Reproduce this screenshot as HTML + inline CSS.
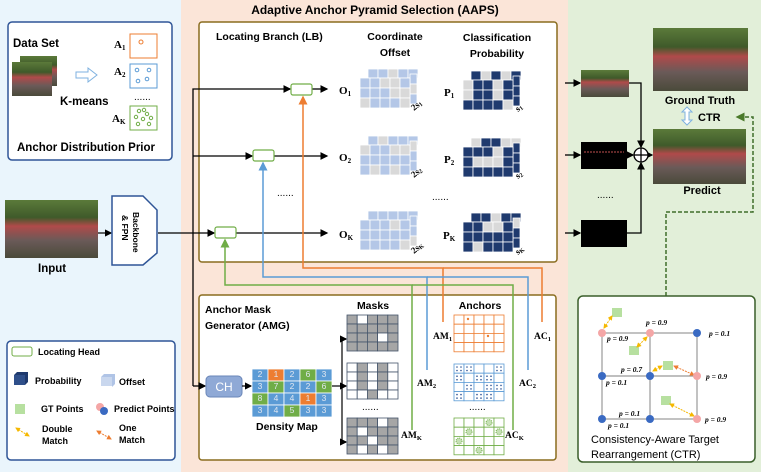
<!DOCTYPE html>
<html><head><meta charset="utf-8"><style>
html,body{margin:0;padding:0;background:#fff}
svg{display:block;font-family:"Liberation Sans",sans-serif}
.b{font-weight:bold}
.s{font-family:"Liberation Serif",serif;font-weight:bold}
</style></head><body>
<svg id="s" width="761" height="472" viewBox="0 0 761 472" xmlns="http://www.w3.org/2000/svg">
<defs>
<linearGradient id="crowd" x1="0" y1="0" x2="0" y2="1">
<stop offset="0" stop-color="#5b7a3a"/><stop offset="0.3" stop-color="#3f5a2a"/><stop offset="0.45" stop-color="#b04a4a"/><stop offset="0.7" stop-color="#6a5a58"/><stop offset="1" stop-color="#4a4a3a"/></linearGradient>
<marker id="ak" markerWidth="6" markerHeight="6" refX="5" refY="3" orient="auto"><path d="M0,0L6,3L0,6z" fill="#000"/></marker>
<marker id="ag" markerWidth="6" markerHeight="6" refX="5" refY="3" orient="auto"><path d="M0,0L6,3L0,6z" fill="#4a7a2a"/></marker>
<marker id="ao" markerWidth="6" markerHeight="6" refX="5" refY="3" orient="auto"><path d="M0,0L6,3L0,6z" fill="#ed7d31"/></marker>
<marker id="ab" markerWidth="6" markerHeight="6" refX="5" refY="3" orient="auto"><path d="M0,0L6,3L0,6z" fill="#5b9bd5"/></marker>
<marker id="agr" markerWidth="6" markerHeight="6" refX="5" refY="3" orient="auto"><path d="M0,0L6,3L0,6z" fill="#70ad47"/></marker>
<marker id="ay" markerWidth="5" markerHeight="5" refX="4" refY="2.5" orient="auto-start-reverse"><path d="M0,0L5,2.5L0,5z" fill="#f5b800"/></marker>
<marker id="ay2" markerWidth="5" markerHeight="5" refX="4" refY="2.5" orient="auto-start-reverse"><path d="M0,0L5,2.5L0,5z" fill="#ed7d31"/></marker>
</defs>
<rect x="0" y="0" width="181" height="472" fill="#eaf5fc"/>
<rect x="181" y="0" width="387" height="472" fill="#fbe5d8"/>
<rect x="568" y="0" width="193" height="472" fill="#e2efd9"/>
<text x="375" y="14" class="b" font-size="12" text-anchor="middle">Adaptive Anchor Pyramid Selection (AAPS)</text>

<rect x="8" y="22" width="164" height="138" rx="4" fill="#fff" stroke="#2f5597" stroke-width="1.5"/>
<text x="13" y="47" class="b" font-size="11.5">Data Set</text>
<rect x="20" y="56" width="37" height="30" fill="url(#crowd)"/>
<rect x="12" y="62" width="40" height="34" fill="url(#crowd)"/>
<path d="M76,72h12v-4l9,7l-9,7v-4h-12z" fill="#fff" stroke="#7fb2e0"/>
<text x="60" y="105" class="b" font-size="11.5">K-means</text>
<text x="114" y="48" class="s" font-size="11">A<tspan font-size="7" dy="2">1</tspan></text>
<rect x="130" y="34" width="27" height="24" fill="#fff" stroke="#ed7d31"/><circle cx="141" cy="42" r="2" fill="none" stroke="#ed7d31"/>
<text x="114" y="75" class="s" font-size="11">A<tspan font-size="7" dy="2">2</tspan></text>
<rect x="130" y="64" width="27" height="24" fill="#fff" stroke="#5b9bd5"/>
<g fill="none" stroke="#5b9bd5"><circle cx="137" cy="70" r="1.8"/><circle cx="149" cy="70" r="1.8"/><circle cx="138" cy="81" r="1.8"/><circle cx="147" cy="79" r="1.8"/></g>
<text x="134" y="100" font-size="10">......</text>
<text x="112" y="122" class="s" font-size="11">A<tspan font-size="7" dy="2">K</tspan></text>
<rect x="130" y="106" width="27" height="24" fill="#fff" stroke="#70ad47"/>
<g fill="none" stroke="#70ad47"><circle cx="139" cy="111" r="1.7"/><circle cx="144" cy="110" r="1.7"/><circle cx="136" cy="117" r="1.7"/><circle cx="143" cy="119" r="1.7"/><circle cx="151" cy="118" r="1.7"/><circle cx="147" cy="114" r="1.7"/><circle cx="138" cy="124" r="1.7"/><circle cx="149" cy="124" r="1.7"/></g>
<text x="17" y="151" class="b" font-size="11.5">Anchor Distribution Prior</text>

<rect x="5" y="200" width="93" height="58" fill="url(#crowd)"/>
<text x="38" y="272" class="b" font-size="11.5">Input</text>
<line x1="98" y1="233" x2="111" y2="233" stroke="#000" stroke-width="1.2" marker-end="url(#ak)"/>
<path d="M112,196H143L157,210V253L143,265H112Z" fill="#fff" stroke="#2f5597" stroke-width="1.5"/>
<text transform="translate(133,212) rotate(90)" class="b" font-size="8.5">Backbone</text>
<text transform="translate(122,215) rotate(90)" class="b" font-size="8.5">&amp; FPN</text>

<rect x="7" y="341" width="168" height="119" rx="4" fill="#fff" stroke="#2f5597" stroke-width="1.5"/>
<rect x="12" y="347" width="20" height="9" rx="2" fill="#fff" stroke="#70ad47"/>
<text x="38" y="355" class="b" font-size="9">Locating Head</text>
<rect x="14" y="375" width="11" height="10" fill="#2f4f8a"/><path d="M14,375l3,-3h11l-3,3zM25,375l3,-3v10l-3,3z" fill="#1f3a6e"/>
<text x="35" y="384" class="b" font-size="9">Probability</text>
<rect x="101" y="377" width="11" height="9" fill="#c9d7ee"/><path d="M101,377l3,-3h11l-3,3zM112,377l3,-3v10l-3,3z" fill="#b0c4e6"/>
<text x="119" y="385" class="b" font-size="9">Offset</text>
<rect x="15" y="404" width="10" height="10" fill="#b7e0a0"/>
<text x="41" y="412" class="b" font-size="9">GT Points</text>
<circle cx="100" cy="407" r="4" fill="#f4a6a6"/><circle cx="104" cy="411" r="4" fill="#3a6ac2"/>
<text x="114" y="412" class="b" font-size="9">Predict Points</text>
<line x1="16" y1="428" x2="29" y2="436" stroke="#f5b800" stroke-dasharray="2,1" marker-start="url(#ay)" marker-end="url(#ay)"/>
<text x="42" y="432" class="b" font-size="9">Double</text><text x="42" y="444" class="b" font-size="9">Match</text>
<line x1="97" y1="431" x2="111" y2="439" stroke="#ed7d31" stroke-dasharray="2,1" marker-start="url(#ay2)" marker-end="url(#ay2)"/>
<text x="119" y="431" class="b" font-size="9">One</text><text x="119" y="443" class="b" font-size="9">Match</text>

<rect x="199" y="22" width="358" height="240" rx="3" fill="#fff" stroke="#8a6d1f" stroke-width="1.5"/>
<text x="216" y="40" class="b" font-size="10.5">Locating Branch (LB)</text>
<text x="395" y="40" class="b" font-size="10.5" text-anchor="middle">Coordinate</text>
<text x="395" y="56" class="b" font-size="10.5" text-anchor="middle">Offset</text>
<text x="497" y="41" class="b" font-size="10.5" text-anchor="middle">Classification</text>
<text x="497" y="57" class="b" font-size="10.5" text-anchor="middle">Probability</text>

<rect x="199" y="295" width="357" height="165" rx="3" fill="#fff" stroke="#8a6d1f" stroke-width="1.5"/>
<text x="205" y="313" class="b" font-size="10.5">Anchor Mask</text>
<text x="205" y="329" class="b" font-size="10.5">Generator (AMG)</text>

<g stroke="#000" stroke-width="1.3" fill="none">
<line x1="158" y1="233" x2="214" y2="233" marker-end="url(#ak)"/>
<polyline points="193,386 193,89 290,89" marker-end="url(#ak)"/>
<line x1="193" y1="156" x2="252" y2="156" marker-end="url(#ak)"/>
<line x1="193" y1="386" x2="205" y2="386" marker-end="url(#ak)"/>
<line x1="312" y1="89" x2="327" y2="89" marker-end="url(#ak)"/>
<line x1="274" y1="156" x2="327" y2="156" marker-end="url(#ak)"/>
<line x1="236" y1="233" x2="327" y2="233" marker-end="url(#ak)"/>
</g>
<text x="277" y="196" font-size="10">......</text>
<text x="432" y="200" font-size="10">......</text>

<g fill="none" stroke-width="1.5">
<polyline points="443,322 443,268 303,268 303,97" stroke="#ed7d31" marker-end="url(#ao)"/>
<polyline points="542,322 542,268 443,268" stroke="#ed7d31"/>
<polyline points="427,370 427,277 263,277 263,163" stroke="#5b9bd5" marker-end="url(#ab)"/>
<polyline points="528,370 528,277 427,277" stroke="#5b9bd5"/>
<polyline points="412,430 412,285 225,285 225,240" stroke="#70ad47" marker-end="url(#agr)"/>
<polyline points="513,430 513,285 412,285" stroke="#70ad47"/>
</g>
<rect x="291" y="84" width="21" height="11" rx="2" fill="#fff" stroke="#70ad47" stroke-width="1.2"/>
<rect x="253" y="150" width="21" height="11" rx="2" fill="#fff" stroke="#70ad47" stroke-width="1.2"/>
<rect x="215" y="227" width="21" height="11" rx="2" fill="#fff" stroke="#70ad47" stroke-width="1.2"/>

<text x="339" y="94" class="s" font-size="11">O<tspan font-size="7" dy="2">1</tspan></text>
<text x="339" y="161" class="s" font-size="11">O<tspan font-size="7" dy="2">2</tspan></text>
<text x="339" y="238" class="s" font-size="11">O<tspan font-size="7" dy="2">K</tspan></text>
<text x="444" y="96" class="s" font-size="11">P<tspan font-size="7" dy="2">1</tspan></text>
<text x="444" y="163" class="s" font-size="11">P<tspan font-size="7" dy="2">2</tspan></text>
<text x="443" y="239" class="s" font-size="11">P<tspan font-size="7" dy="2">K</tspan></text>
<g id="cubes"></g>
<g class="s" font-size="9">
<text transform="translate(414,111) rotate(-40)">2s<tspan font-size="6" dy="1">1</tspan></text>
<text transform="translate(414,178) rotate(-40)">2s<tspan font-size="6" dy="1">2</tspan></text>
<text transform="translate(414,254) rotate(-40)">2s<tspan font-size="6" dy="1">K</tspan></text>
<text transform="translate(518,112) rotate(-40)">s<tspan font-size="6" dy="1">1</tspan></text>
<text transform="translate(518,179) rotate(-40)">s<tspan font-size="6" dy="1">2</tspan></text>
<text transform="translate(518,255) rotate(-40)">s<tspan font-size="6" dy="1">K</tspan></text>
</g>

<rect x="206" y="376" width="36" height="21" rx="4" fill="#8fa9d6" stroke="#6a86b8"/>
<text x="224" y="391" font-size="12" fill="#fff" text-anchor="middle">CH</text>
<line x1="242" y1="386" x2="251" y2="386" stroke="#000" stroke-width="1.2" marker-end="url(#ak)"/>
<g id="dens"></g>
<g font-size="8.5" fill="#e0e6f0" text-anchor="middle">
<text x="260" y="377">2</text><text x="276" y="377">1</text><text x="292" y="377">2</text><text x="308" y="377">6</text><text x="324" y="377">3</text>
<text x="260" y="389">3</text><text x="276" y="389">7</text><text x="292" y="389">2</text><text x="308" y="389">2</text><text x="324" y="389">6</text>
<text x="260" y="401">8</text><text x="276" y="401">4</text><text x="292" y="401">4</text><text x="308" y="401">1</text><text x="324" y="401">3</text>
<text x="260" y="413">3</text><text x="276" y="413">4</text><text x="292" y="413">5</text><text x="308" y="413">3</text><text x="324" y="413">3</text>
</g>
<text x="256" y="430" class="b" font-size="10.5">Density Map</text>
<g stroke="#000" stroke-width="1.2" fill="none">
<line x1="332" y1="386" x2="342" y2="386"/>
<polyline points="346,339 342,339 342,442 346,442"/>
<line x1="342" y1="339" x2="346" y2="339" marker-end="url(#ak)"/>
<line x1="342" y1="386" x2="346" y2="386" marker-end="url(#ak)"/>
<line x1="342" y1="442" x2="346" y2="442" marker-end="url(#ak)"/>
</g>
<text x="373" y="309" class="b" font-size="10.5" text-anchor="middle">Masks</text>
<text x="480" y="309" class="b" font-size="10.5" text-anchor="middle">Anchors</text>
<text x="362" y="410" font-size="10">......</text>
<text x="469" y="410" font-size="10">......</text>
<g id="grids"></g>
<g class="s" font-size="9.5">
<text x="433" y="339">AM<tspan font-size="6.5" dy="2">1</tspan></text>
<text x="417" y="386">AM<tspan font-size="6.5" dy="2">2</tspan></text>
<text x="401" y="438">AM<tspan font-size="6.5" dy="2">K</tspan></text>
<text x="534" y="339">AC<tspan font-size="6.5" dy="2">1</tspan></text>
<text x="519" y="386">AC<tspan font-size="6.5" dy="2">2</tspan></text>
<text x="505" y="438">AC<tspan font-size="6.5" dy="2">K</tspan></text>
</g>

<g stroke="#000" stroke-width="1.3" fill="none">
<line x1="565" y1="83" x2="580" y2="83" marker-end="url(#ak)"/>
<line x1="565" y1="155" x2="580" y2="155" marker-end="url(#ak)"/>
<line x1="565" y1="233" x2="580" y2="233" marker-end="url(#ak)"/>
<polyline points="629,83 641,83 641,147" marker-end="url(#ak)"/>
<line x1="627" y1="155" x2="633" y2="155" marker-end="url(#ak)"/>
<polyline points="627,233 641,233 641,163" marker-end="url(#ak)"/>
<line x1="648" y1="155" x2="652" y2="155" marker-end="url(#ak)"/>
<circle cx="641" cy="155" r="7" fill="#fff"/>
<line x1="634" y1="155" x2="648" y2="155"/><line x1="641" y1="148" x2="641" y2="162"/>
</g>
<rect x="581" y="70" width="48" height="27" fill="url(#crowd)"/>
<rect x="581" y="142" width="46" height="27" fill="#000"/><line x1="584" y1="152" x2="624" y2="152" stroke="#c05050" stroke-width="1" stroke-dasharray="2,1"/>
<rect x="581" y="220" width="46" height="27" fill="#000"/>
<text x="597" y="198" font-size="10">......</text>
<rect x="653" y="28" width="95" height="63" fill="url(#crowd)"/>
<text x="700" y="104" class="b" font-size="11" text-anchor="middle">Ground Truth</text>
<path d="M687,107l-5,5h3v8h-3l5,5l5,-5h-3v-8h3z" fill="#fff" stroke="#7fb2e0"/>
<text x="698" y="121" class="b" font-size="11">CTR</text>
<rect x="653" y="129" width="93" height="55" fill="url(#crowd)"/>
<text x="702" y="194" class="b" font-size="11" text-anchor="middle">Predict</text>
<polyline points="666,296 666,212 753,212 753,117 737,117" fill="none" stroke="#3f6e2a" stroke-width="1.5" stroke-dasharray="4,2" marker-end="url(#ag)"/>

<rect x="578" y="296" width="177" height="166" rx="5" fill="#fff" stroke="#3a5f2a" stroke-width="1.5"/>
<g stroke="#999" stroke-width="1.2" fill="none">
<rect x="602" y="333" width="95" height="86"/><line x1="650" y1="333" x2="650" y2="419"/><line x1="602" y1="376" x2="697" y2="376"/>
</g>
<g fill="#b7e0a0"><rect x="612" y="308" width="10" height="9"/><rect x="629" y="346" width="10" height="9"/><rect x="663" y="361" width="10" height="9"/><rect x="661" y="396" width="10" height="9"/></g>
<g stroke-width="1" stroke-dasharray="2,1">
<line x1="604" y1="328" x2="612" y2="316" stroke="#f5b800" marker-start="url(#ay)" marker-end="url(#ay)"/>
<line x1="647" y1="337" x2="637" y2="347" stroke="#f5b800" marker-start="url(#ay)" marker-end="url(#ay)"/>
<line x1="653" y1="371" x2="662" y2="366" stroke="#f5b800" marker-start="url(#ay)" marker-end="url(#ay)"/>
<line x1="674" y1="366" x2="694" y2="375" stroke="#ed7d31" marker-start="url(#ay2)" marker-end="url(#ay2)"/>
<line x1="670" y1="404" x2="694" y2="416" stroke="#f5b800" marker-start="url(#ay)" marker-end="url(#ay)"/>
</g>
<g fill="#f4a6a6"><circle cx="602" cy="333" r="4"/><circle cx="650" cy="333" r="4"/><circle cx="697" cy="376" r="4"/><circle cx="697" cy="419" r="4"/></g>
<g fill="#3a6ac2"><circle cx="697" cy="333" r="4"/><circle cx="602" cy="376" r="4"/><circle cx="650" cy="376" r="4"/><circle cx="602" cy="419" r="4"/><circle cx="650" cy="419" r="4"/></g>
<g class="s" font-size="7.5" font-style="italic">
<text x="646" y="325">p = 0.9</text><text x="709" y="336">p = 0.1</text>
<text x="607" y="341">p = 0.9</text><text x="621" y="372">p = 0.7</text>
<text x="606" y="385">p = 0.1</text><text x="706" y="379">p = 0.9</text>
<text x="619" y="416">p = 0.1</text><text x="608" y="428">p = 0.1</text><text x="705" y="422">p = 0.9</text>
</g>
<text x="591" y="443" font-size="11">Consistency-Aware Target</text>
<text x="591" y="458" font-size="11">Rearrangement (CTR)</text>
</svg>
<script>
var NS="http://www.w3.org/2000/svg";
function R(p,x,y,w,h,f,s){var r=document.createElementNS(NS,"rect");r.setAttribute("x",x);r.setAttribute("y",y);r.setAttribute("width",w);r.setAttribute("height",h);r.setAttribute("fill",f);if(s){r.setAttribute("stroke",s);r.setAttribute("stroke-width",0.8);}p.appendChild(r);}
var cubes=document.getElementById("cubes");
function cube(x,y,dark,seed){
 var cols=dark?["#1f3a6e","#d9d9d9"]:["#b4c7e7","#d9d9d9"];
 var k=seed;
 function pick(){k=(k*9301+49297)%233280;return k/233280;}
 var thr=dark?0.75:0.7;
 for(var i=0;i<5;i++)R(cubes,x+8+i*10,y-9,10,9,pick()<thr?cols[0]:cols[1],"#fff");
 for(var j=0;j<3;j++)R(cubes,x+50,y+j*10-4,7,10,pick()<thr?cols[0]:cols[1],"#fff");
 for(var j=0;j<3;j++)for(var i=0;i<5;i++)R(cubes,x+i*10,y+j*10,10,10,pick()<thr?cols[0]:cols[1],"#fff");
}
cube(360,78,0,3);cube(360,145,0,11);cube(360,220,0,7);
cube(463,80,1,5);cube(463,147,1,19);cube(463,222,1,13);
var d=document.getElementById("dens");
var dc=[["b","o","b","g","b"],["b","g","b","b","g"],["g","b","b","o","b"],["b","b","g","b","b"]];
var cm={b:"#5b9bd5",o:"#ed7d31",g:"#70ad47"};
for(var j=0;j<4;j++)for(var i=0;i<5;i++)R(d,252+i*16,369+j*12,16,12,cm[dc[j][i]],"#fff");
var g=document.getElementById("grids");
function mask(x,y,wh){for(var j=0;j<4;j++)for(var i=0;i<5;i++){var w=wh.indexOf(j*5+i)>=0;R(g,x+i*10.2,y+j*9,10.2,9,w?"#fff":"#a6a6a6","#44546a");}}
mask(347,315,[1,13]);
mask(347,363,[0,2,4,5,7,9,10,12,14,15,16,18,19]);
mask(347,418,[3,6,12,16,18]);
function anc(x,y,c){for(var j=0;j<4;j++)for(var i=0;i<5;i++)R(g,x+i*10,y+j*9.2,10,9.2,"#fff",c);}
anc(454,315,"#ed7d31");anc(454,364,"#5b9bd5");anc(454,418,"#70ad47");
function dot(x,y,c,r){var e=document.createElementNS(NS,"circle");e.setAttribute("cx",x);e.setAttribute("cy",y);e.setAttribute("r",r);e.setAttribute("fill",c);g.appendChild(e);}
dot(468,319,"#ed7d31",1.2);dot(488,336,"#ed7d31",1.2);
[[0,0],[1,0],[2,1],[3,1],[4,0],[0,1],[1,2],[3,2],[0,3],[2,3],[3,3],[4,2]].forEach(function(p){for(var a=0;a<4;a++)dot(454+p[0]*10+3+(a%2)*4,364+p[1]*9.2+3+Math.floor(a/2)*3.5,"#2f5597",0.8);});
[[3,0],[1,1],[4,1],[0,2],[2,3]].forEach(function(p){var e=document.createElementNS(NS,"circle");e.setAttribute("cx",454+p[0]*10+5);e.setAttribute("cy",418+p[1]*9.2+4.6);e.setAttribute("r",3);e.setAttribute("fill","#c5e0b4");e.setAttribute("stroke","#70ad47");e.setAttribute("stroke-dasharray","1,1");g.appendChild(e);});
</script>
</body></html>
